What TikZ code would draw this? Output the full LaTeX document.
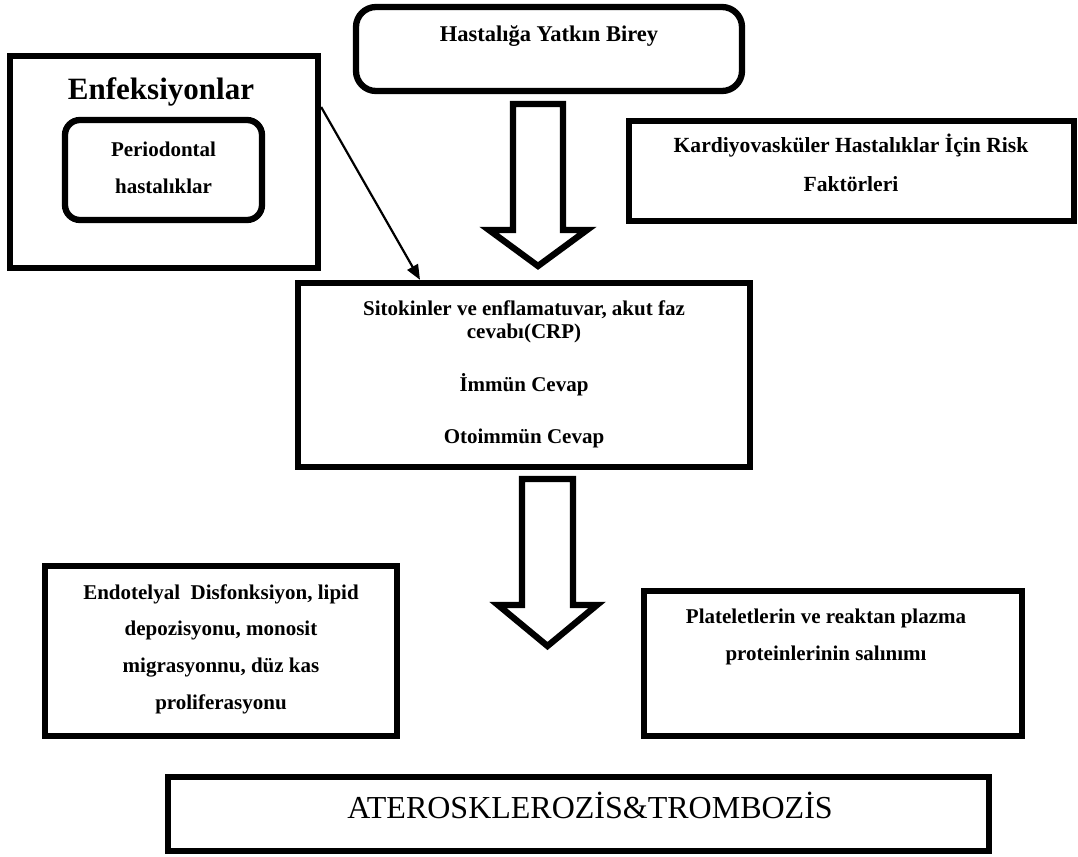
\documentclass[tikz,border=0pt]{standalone}
\usepackage{fontspec}
\setmainfont{Liberation Serif}
\usetikzlibrary{fit,arrows.meta}
% bold body text: size and line distance given as arguments
\newcommand\txtfont[2]{\bfseries\fontsize{#1}{#2}\selectfont}
\begin{document}
\begin{tikzpicture}[x=1pt,y=-1pt,
  frame/.style={draw=black, line width=6.3pt, inner sep=0pt},
  roundframe/.style={frame, rounded corners=#1},
  lab/.style={inner sep=0pt, anchor=base},
  blockarrow/.style={draw=black, fill=white, line width=6.3pt, line join=miter},
  link/.style={draw=black, line width=2.2pt, -{Triangle[length=15pt,width=12pt]}}]

\fill[white] (0,0) rectangle (1078,856);
\useasboundingbox (0,0) rectangle (1078,856);

% frames
\node[roundframe=20pt, fit={(356,7) (742,91)}] (birey) {};
\node[frame, fit={(10,56) (318,268)}] (enf) {};
\node[roundframe=15pt, fit={(65,120) (262,220)}] (perio) {};
\node[frame, fit={(629,121) (1074,221)}] (risk) {};
\node[frame, fit={(298,283) (750,467)}] (yanit) {};
\node[frame, fit={(45,566) (397,736)}] (endo) {};
\node[frame, fit={(644,591) (1022,736)}] (plat) {};
\node[frame, fit={(168,777) (989,851)}] (ater) {};

% texts
\node[lab, font=\txtfont{22.5}{24}] (tBirey) at (549,42) {Hastalığa Yatkın Birey};
\node[lab, font=\txtfont{31}{34}] (tEnf) at (161,100) {Enfeksiyonlar};
\node[lab, font=\txtfont{21}{36}] (tPerio) at (163.5,157)
  {\begin{tabular}[t]{@{}c@{}}Periodontal\\hastalıklar\end{tabular}};
\node[lab, font=\txtfont{21.6}{39}] (tRisk) at (851,153)
  {\begin{tabular}[t]{@{}c@{}}Kardiyovasküler Hastalıklar İçin Risk\\Faktörleri\end{tabular}};
\node[lab, font=\txtfont{21}{23}] (tYanit) at (524,315)
  {\begin{tabular}[t]{@{}c@{}}Sitokinler ve enflamatuvar, akut faz\\cevabı(CRP)\\[29pt]İmmün Cevap\\[29pt]Otoimmün Cevap\end{tabular}};
\node[lab, font=\txtfont{21}{36.7}] (tEndo) at (221,599)
  {\begin{tabular}[t]{@{}c@{}}Endotelyal\ \ Disfonksiyon, lipid\\depozisyonu, monosit\\migrasyonnu, düz kas\\proliferasyonu\end{tabular}};
\node[lab, font=\txtfont{21}{37}] (tPlat) at (826,623)
  {\begin{tabular}[t]{@{}c@{}}Plateletlerin ve reaktan plazma\\proteinlerinin salınımı\end{tabular}};
\node[lab, font=\fontsize{32}{36}\selectfont] (tAter) at (590,818) {ATEROSKLEROZİS\&TROMBOZİS};

% block arrows
\draw[blockarrow] (513,104) -- (563,104) -- (563,230) -- (587,230) -- (538,266)
  -- (489,230) -- (513,230) -- cycle;
\draw[blockarrow] (522,479) -- (573,479) -- (573,605) -- (597,605) -- (547.5,646)
  -- (498,605) -- (522,605) -- cycle;

% thin arrow from the infection frame to the response frame
\coordinate (linkFrom) at (0,107);
\coordinate (linkTo) at (420,0);
\draw[link] (enf.east |- linkFrom) -- (linkTo |- yanit.north);
\end{tikzpicture}
\end{document}
